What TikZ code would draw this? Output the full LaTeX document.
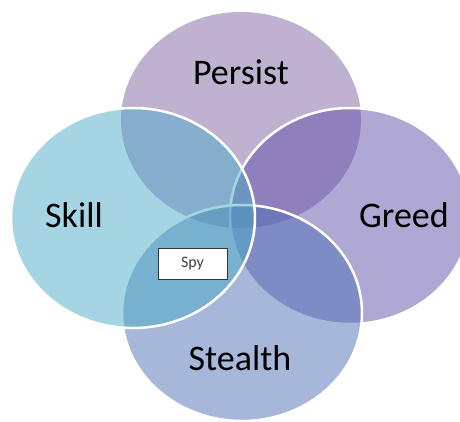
\documentclass[tikz,border=0pt]{standalone}
\usepackage{fontspec}
\setmainfont{Carlito}
\usetikzlibrary{positioning}
\definecolor{persistcol}{RGB}{128,100,162}
\definecolor{greedcol}{RGB}{96,80,170}
\definecolor{stealthcol}{RGB}{79,112,180}
\definecolor{skillcol}{RGB}{75,172,198}
\tikzset{
  venn/.style={draw=white, line width=2.5pt, fill opacity=0.5},
  vennlabel/.style={font=\fontsize{36}{42}\selectfont, text=black},
  spybox/.style={draw=black!80, fill=white, line width=0.8pt, minimum width=69pt, minimum height=31pt,
    font=\fontsize{16}{19}\selectfont, text=black!75, inner sep=0pt},
}

\begin{document}
\begin{tikzpicture}[x=1pt,y=-1pt]

  \useasboundingbox (0,0) rectangle (460,421);

  \def\rx{120}
  \def\ry{108}

  \coordinate (persist) at (241,120);
  \coordinate (greed) at (350,216);
  \coordinate (stealth) at (242,313);
  \coordinate (skill) at (133,218);

  % the four sets
  \fill[persistcol, fill opacity=0.5] (persist) ellipse [x radius=\rx, y radius=\ry];
  \filldraw[venn, fill=greedcol] (greed) ellipse [x radius=\rx, y radius=\ry];
  \filldraw[venn, fill=stealthcol] (stealth) ellipse [x radius=\rx, y radius=\ry];
  \filldraw[venn, fill=skillcol] (skill) ellipse [x radius=122, y radius=110];

  \node[vennlabel] (persistlbl) at (241,72) {Persist};
  \node[vennlabel] (greedlbl) at (404,215) {Greed};
  \node[vennlabel] (stealthlbl) at (240,358) {Stealth};
  \node[vennlabel] (skilllbl) at (74,215) {Skill};

  \node[spybox] (spy) at (192.5,263.5) {Spy\hspace{8pt}};

\end{tikzpicture}
\end{document}
